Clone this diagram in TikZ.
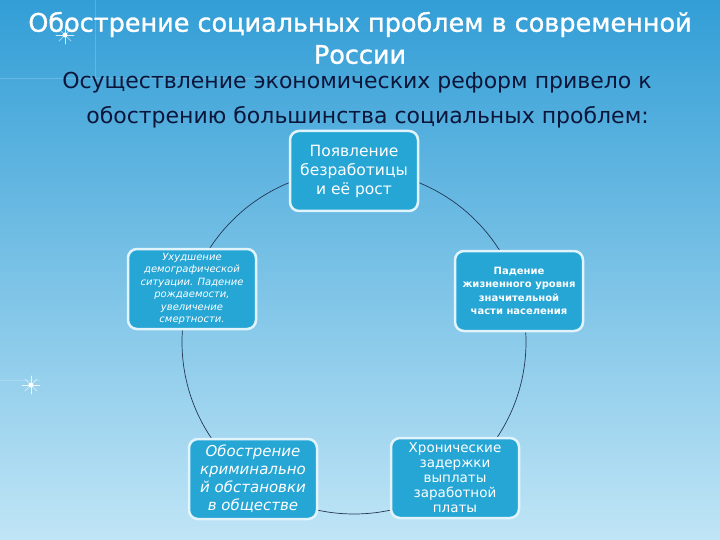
\documentclass[tikz,border=0pt]{standalone}
\usepackage{fontspec}
\setmainfont{DejaVu Sans}
\newfontfamily\titlefont[FakeBold=1.2]{DejaVu Sans}
\definecolor{bgtop}{RGB}{50,158,214}
\definecolor{bgbot}{RGB}{192,229,246}
\definecolor{boxfill}{RGB}{38,166,213}
\definecolor{boxrim}{RGB}{225,243,251}
\definecolor{subtext}{RGB}{12,22,58}
\definecolor{ringline}{RGB}{35,55,85}
\tikzset{
  stagebox/.style={draw=boxrim, line width=2.5pt, fill=boxfill, rounded corners=9pt,
    minimum width=128pt, minimum height=80pt, text=white, align=center, inner sep=2pt},
  glint/.style={white, line width=0.8pt, line cap=round, opacity=0.8},
}
\begin{document}
\begin{tikzpicture}[x=1pt,y=-1pt]
  \shade[top color=bgtop, bottom color=bgbot] (0,0) rectangle (720,540);
  \useasboundingbox (0,0) rectangle (720,540);
  % faint background lines
  \draw[white, opacity=0.18] (95,0)--(95,78) (0,78)--(300,78) (0,380)--(40,380);
  % glints
  \foreach \gx/\gy in {65/35, 31/385}{
    \fill[white] (\gx,\gy) circle[radius=2.5pt];
    \draw[glint] (\gx-9,\gy)--(\gx+9,\gy) (\gx,\gy-9)--(\gx,\gy+9);
    \draw[glint, opacity=0.5] (\gx-6,\gy-6)--(\gx+6,\gy+6) (\gx-6,\gy+6)--(\gx+6,\gy-6);
  }
  \node[text=white, font=\titlefont\fontsize{25.5}{32}\selectfont, align=center] (ttl) at (360,38)
    {Обострение социальных проблем в современной\\России};
  \node[text=subtext, font=\fontsize{22}{35}\selectfont, align=center] (sub) at (357,100)
    {Осуществление экономических реформ привело к\\ \ \ \ обострению большинства социальных проблем:};
  \coordinate (C) at (354,342);
  \draw[ringline, line width=0.7pt] (C) circle[radius=172pt];
  \node[stagebox, font=\fontsize{15.5}{19}\selectfont] (bezrab) at (354,171)
    {Появление\\безработицы\\и её рост};
  \node[stagebox, font=\bfseries\fontsize{10}{13.5}\selectfont] (uroven) at (519,291)
    {Падение\\жизненного уровня\\значительной\\части населения};
  \node[stagebox, font=\fontsize{13.5}{15}\selectfont] (zarplata) at (455,478)
    {Хронические\\задержки\\выплаты\\заработной\\платы};
  \node[stagebox, font=\itshape\fontsize{15}{18}\selectfont] (krimin) at (253,479)
    {Обострение\\криминально\\й обстановки\\в обществе};
  \node[stagebox, font=\itshape\fontsize{10}{12.5}\selectfont] (demogr) at (192,289)
    {Ухудшение\\демографической\\ситуации. Падение\\рождаемости,\\увеличение\\смертности.};
\end{tikzpicture}
\end{document}
